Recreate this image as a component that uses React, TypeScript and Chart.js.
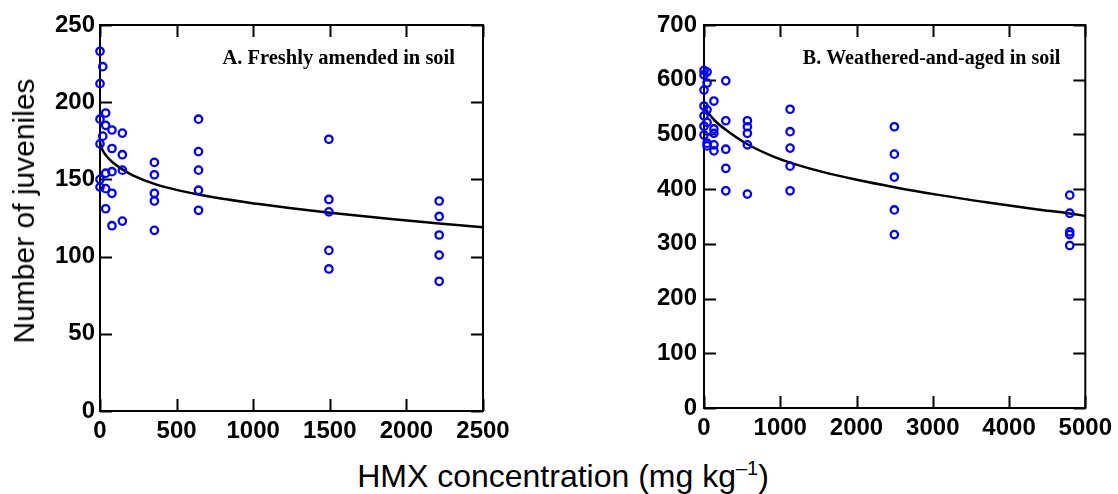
import React, { useEffect, useRef } from "react";
import { Chart, registerables } from "chart.js";

Chart.register(...registerables);

// ---- Panel A: freshly amended in soil ----
const aConc = [
  0, 0, 0, 0, 0, 0,
  18, 18,
  37, 37, 37, 37, 37,
  78, 78, 78, 78, 78,
  146, 146, 146, 146,
  355, 355, 355, 355, 355,
  643, 643, 643, 643, 643,
  1494, 1494, 1494, 1494, 1494,
  2214, 2214, 2214, 2214, 2214,
];
const aCount = [
  233, 212, 189, 173, 150, 145,
  223, 178,
  193, 185, 154, 144, 131,
  182, 170, 155, 141, 120,
  180, 166, 156, 123,
  161, 153, 141, 136, 117,
  189, 168, 156, 143, 130,
  176, 137, 129, 104, 92,
  136, 126, 114, 101, 84,
];
const aFitConc = [0, 10, 25, 45, 76, 146, 218, 350, 500, 643, 800, 1025, 1250, 1500, 1900, 2214, 2500];
const aFitCount = [174, 170.5, 167.5, 164.8, 161.6, 156.5, 152.5, 147.3, 143.2, 140.2, 137.4, 134.2, 131.3, 128.4, 124.3, 121.4, 119];
const aXTicks = { min: 0, max: 2500, step: 500 };
const aYTicks = { min: 0, max: 250, step: 50 };

// ---- Panel B: weathered-and-aged in soil ----
const bConc = [
  0, 0, 0, 0, 0, 0, 0,
  40, 40, 40, 40, 40, 40,
  130, 130, 130, 130, 130,
  286, 286, 286, 286, 286,
  569, 569, 569, 569, 569,
  1129, 1129, 1129, 1129, 1129,
  2496, 2496, 2496, 2496, 2496,
  4796, 4796, 4796, 4796, 4796,
];
const bCount = [
  617, 609, 581, 552, 534, 515, 499,
  614, 594, 545, 522, 484, 479,
  561, 510, 502, 481, 470,
  598, 525, 473, 438, 397,
  525, 514, 502, 481, 391,
  546, 505, 475, 442, 397,
  514, 464, 422, 362, 317,
  389, 356, 322, 317, 297,
];
const bFitConc = [0, 13, 60, 143, 286, 569, 903, 1129, 1554, 1988, 2496, 3073, 3724, 4375, 4796, 5000];
const bFitCount = [551, 548, 538.5, 525, 508.5, 482, 460, 448.5, 431.5, 417.5, 403.5, 389.5, 375.5, 363, 355.5, 351];
const bXTicks = { min: 0, max: 5000, step: 1000 };
const bYTicks = { min: 0, max: 700, step: 100 };

const panelATitle = "A. Freshly amended in soil";
const panelBTitle = "B. Weathered-and-aged in soil";
const yTitle = "Number of juveniles";

const SANS = "'Liberation Sans', Arial, Helvetica, sans-serif";
const SERIF = "'Liberation Serif', 'Times New Roman', serif";

const framePlugin = {
  id: "frame",
  beforeDatasetsDraw(chart: any) {
    const { ctx, chartArea: a, scales } = chart;
    ctx.save();
    ctx.strokeStyle = "#000";
    ctx.lineWidth = 2;
    ctx.strokeRect(a.left, a.top, a.right - a.left, a.bottom - a.top);
    const L = 12;
    ctx.beginPath();
    scales.x.ticks.forEach((t: any) => {
      const px = Math.round(scales.x.getPixelForValue(t.value)) + 0.5;
      ctx.moveTo(px, a.bottom);
      ctx.lineTo(px, a.bottom - L);
      ctx.moveTo(px, a.top);
      ctx.lineTo(px, a.top + L);
    });
    scales.y.ticks.forEach((t: any) => {
      const py = Math.round(scales.y.getPixelForValue(t.value)) + 0.5;
      ctx.moveTo(a.left, py);
      ctx.lineTo(a.left + L, py);
      ctx.moveTo(a.right, py);
      ctx.lineTo(a.right - L, py);
    });
    ctx.stroke();
    ctx.restore();
  },
};

const panelTitlePlugin = {
  id: "panelTitle",
  afterDraw(chart: any, _args: any, opts: any) {
    const { ctx, chartArea: a } = chart;
    ctx.save();
    ctx.fillStyle = "#000";
    ctx.font = `bold ${opts.size}px ${SERIF}`;
    ctx.textAlign = "right";
    ctx.textBaseline = "middle";
    ctx.fillText(opts.text, a.right - opts.rightGap, a.top + 34);
    ctx.restore();
  },
};

function makeConfig(
  conc: number[],
  count: number[],
  fitConc: number[],
  fitCount: number[],
  xt: { min: number; max: number; step: number },
  yt: { min: number; max: number; step: number },
  title: string,
  titleSize: number,
  yWidth: number,
  xHeight: number,
  padRight: number,
  yPad: number,
  rightGap: number
): any {
  const tickFont = { family: SANS, size: 24, weight: "bold" as const };
  const plain = (v: any) => String(v);
  return {
    type: "scatter",
    data: {
      datasets: [
        {
          data: conc.map((x, i) => ({ x, y: count[i] })),
          pointStyle: "circle",
          pointRadius: 3.7,
          borderWidth: 2.3,
          borderColor: "#0000ff",
          backgroundColor: "rgba(255,255,255,0)",
          showLine: false,
          clip: false,
          order: 0,
        },
        {
          data: fitConc.map((x, i) => ({ x, y: fitCount[i] })),
          showLine: true,
          borderColor: "#000",
          borderWidth: 2.5,
          pointRadius: 0,
          cubicInterpolationMode: "monotone",
          fill: false,
          clip: false,
          order: 1,
        },
      ],
    },
    options: {
      responsive: false,
      maintainAspectRatio: false,
      animation: false,
      layout: { padding: { left: 0, right: padRight, top: 25, bottom: 0 } },
      plugins: {
        legend: { display: false },
        tooltip: { enabled: false },
        panelTitle: { text: title, rightGap, size: titleSize },
      },
      scales: {
        x: {
          type: "linear",
          min: xt.min,
          max: xt.max,
          ticks: { stepSize: xt.step, font: tickFont, color: "#000", padding: 6, maxRotation: 0, callback: plain },
          grid: { display: false, drawTicks: false },
          border: { display: false },
          afterFit: (s: any) => {
            s.height = xHeight;
          },
        },
        y: {
          type: "linear",
          min: yt.min,
          max: yt.max,
          ticks: { stepSize: yt.step, font: tickFont, color: "#000", padding: yPad, callback: plain },
          grid: { display: false, drawTicks: false },
          border: { display: false },
          afterFit: (s: any) => {
            s.width = yWidth;
          },
        },
      },
    },
    plugins: [framePlugin, panelTitlePlugin],
  };
}

export default function App() {
  const leftRef = useRef<HTMLCanvasElement>(null);
  const rightRef = useRef<HTMLCanvasElement>(null);

  useEffect(() => {
    const c1 = new Chart(
      leftRef.current as HTMLCanvasElement,
      makeConfig(aConc, aCount, aFitConc, aFitCount, aXTicks, aYTicks, panelATitle, 20.5, 100, 39, 37, 5, 28)
    );
    const c2 = new Chart(
      rightRef.current as HTMLCanvasElement,
      makeConfig(bConc, bCount, bFitConc, bFitCount, bXTicks, bYTicks, panelBTitle, 20, 144, 42, 30, 7, 25)
    );
    return () => {
      c1.destroy();
      c2.destroy();
    };
  }, []);

  return (
    <div
      style={{
        position: "absolute",
        left: 0,
        top: 0,
        width: 1118,
        height: 494,
        background: "#fff",
        overflow: "hidden",
        fontFamily: SANS,
      }}
    >
      <canvas
        ref={leftRef}
        width={520}
        height={450}
        style={{ position: "absolute", left: 0, top: 0, width: 520, height: 450 }}
      />
      <canvas
        ref={rightRef}
        width={558}
        height={450}
        style={{ position: "absolute", left: 560, top: 0, width: 558, height: 450 }}
      />
      <div
        style={{
          position: "absolute",
          left: 24,
          top: 211,
          transform: "translate(-50%, -50%) rotate(-90deg)",
          whiteSpace: "nowrap",
          fontSize: 30,
          color: "#000",
          lineHeight: 1,
        }}
      >
        {yTitle}
      </div>
      <div
        style={{
          position: "absolute",
          left: 563,
          top: 476,
          transform: "translate(-50%, -50%)",
          whiteSpace: "nowrap",
          fontSize: 32,
          color: "#000",
          lineHeight: 1,
        }}
      >
        HMX concentration (mg kg<sup style={{ fontSize: 20, verticalAlign: "0.6em", lineHeight: 0 }}>–1</sup>)
      </div>
    </div>
  );
}
